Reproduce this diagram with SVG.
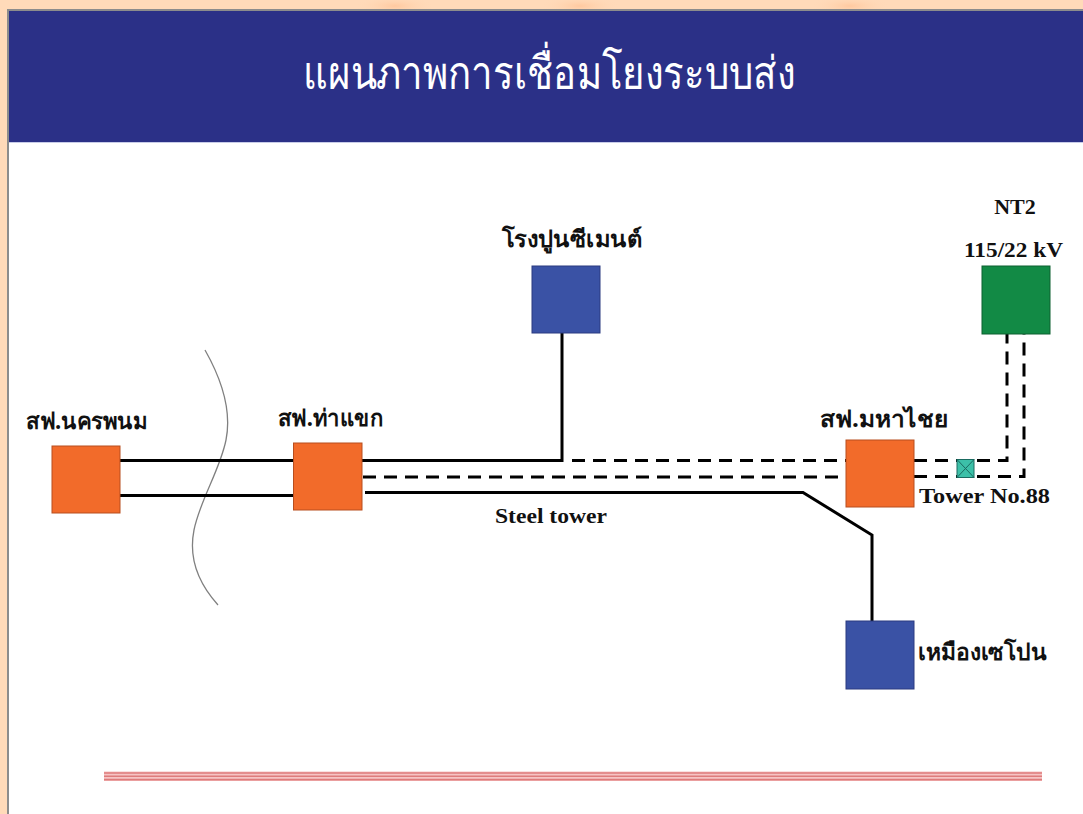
<svg xmlns="http://www.w3.org/2000/svg" width="1083" height="814" viewBox="0 0 1083 814">
  <defs>
    <radialGradient id="glow" cx="0.5" cy="0.5" r="0.5">
      <stop offset="0" stop-color="#FFC9A0"/>
      <stop offset="1" stop-color="#FFDAB9" stop-opacity="0"/>
    </radialGradient>
  </defs>
  <style>
    .sub { fill: #F26B2A; stroke: #B84E1E; stroke-width: 1; }
    .blue { fill: #3A52A5; stroke: #2A3A80; stroke-width: 1; }
    .green { fill: #128A45; stroke: #0C6030; stroke-width: 1; }
    .solid { fill: none; stroke: #000; stroke-width: 3; }
    .dash { fill: none; stroke: #000; stroke-width: 3; stroke-dasharray: 13 8; }
    .th { font-family: "Noto Sans", "DejaVu Sans", sans-serif; font-weight: bold; font-size: 23px; fill: #111; }
    .en { font-family: "Liberation Serif", serif; font-weight: bold; font-size: 22px; fill: #111; }
    .title { font-family: "Noto Sans", "DejaVu Sans", sans-serif; font-size: 46px; fill: #fff; }
  </style>

  <!-- background -->
  <rect x="0" y="0" width="1083" height="814" fill="#FFDAB9"/>
  <ellipse cx="395" cy="6" rx="40" ry="10" fill="url(#glow)"/>
  <ellipse cx="580" cy="6" rx="40" ry="10" fill="url(#glow)"/>
  <ellipse cx="850" cy="6" rx="40" ry="10" fill="url(#glow)"/>

  <!-- slide panel -->
  <rect x="8" y="10" width="1080" height="810" fill="#FFFFFF" stroke="#8C8C8C" stroke-width="2"/>
  <rect x="9" y="11" width="1074" height="131" fill="#2B3087"/>
  <line x1="9" y1="142.5" x2="1083" y2="142.5" stroke="#C8CCE8" stroke-width="1"/>
  <text class="title" x="303" y="89" textLength="492" lengthAdjust="spacingAndGlyphs">แผนภาพการเชื่อมโยงระบบส่ง</text>

  <!-- bottom rule -->
  <g id="bottom-rule">
    <rect x="104" y="771.5" width="938" height="9.5" fill="#F6C4C4"/>
    <line x1="104" y1="773" x2="1042" y2="773" stroke="#DE7B7B" stroke-width="1.6"/>
    <line x1="104" y1="776.3" x2="1042" y2="776.3" stroke="#DE7B7B" stroke-width="1.6"/>
    <line x1="104" y1="779.6" x2="1042" y2="779.6" stroke="#DE7B7B" stroke-width="1.6"/>
  </g>

  <!-- break line -->
  <path id="break-mark" d="M205,350 C222,380 232,410 226,440 C220,470 200,500 194,530 C188,560 200,585 218,605" fill="none" stroke="#808080" stroke-width="1.3"/>

  <!-- connectors -->
  <g id="connectors">
    <line class="solid" x1="120" y1="460.5" x2="293" y2="460.5"/>
    <line class="solid" x1="120" y1="495.5" x2="293" y2="495.5"/>
    <polyline class="solid" points="362,460.5 562,460.5 562,333"/>
    <line class="dash" x1="572" y1="460.5" x2="846" y2="460.5"/>
    <line class="dash" x1="363" y1="477" x2="846" y2="477"/>
    <polyline class="solid" points="365,492.5 803,492.5 872,535 872,621"/>
    <polyline class="dash" points="914,460.5 1007,460.5 1007,334"/>
    <polyline class="dash" points="914,476.5 1024,476.5 1024,334"/>
  </g>

  <!-- tower marker -->
  <g id="tower-88">
    <rect x="957" y="459.5" width="17" height="18" fill="#3CC0A8" stroke="#1A6A60" stroke-width="1"/>
    <path d="M957,459.5 L974,477.5 M974,459.5 L957,477.5" stroke="#1A6A60" stroke-width="1"/>
    <text class="en" x="919" y="503" textLength="131" lengthAdjust="spacingAndGlyphs">Tower No.88</text>
  </g>

  <text id="steel-tower-label" class="en" x="495" y="523" textLength="112" lengthAdjust="spacingAndGlyphs">Steel tower</text>

  <g id="nakhon-phanom">
    <rect class="sub" x="52" y="446" width="68" height="67"/>
    <text class="th" x="26" y="429" textLength="121" lengthAdjust="spacingAndGlyphs">สฟ.นครพนม</text>
  </g>

  <g id="thakhek">
    <rect class="sub" x="293.5" y="443" width="68.5" height="67"/>
    <text class="th" x="278" y="426" textLength="105" lengthAdjust="spacingAndGlyphs">สฟ.ท่าแขก</text>
  </g>

  <g id="cement">
    <rect class="blue" x="532" y="266" width="68" height="67"/>
    <text class="th" x="502" y="247" textLength="140" lengthAdjust="spacingAndGlyphs">โรงปูนซีเมนต์</text>
  </g>

  <g id="mahaxai">
    <rect class="sub" x="846" y="440" width="68" height="67"/>
    <text class="th" x="820" y="427" textLength="128" lengthAdjust="spacingAndGlyphs">สฟ.มหาไชย</text>
  </g>

  <g id="nt2">
    <rect class="green" x="982" y="266" width="68" height="68"/>
    <text class="en" x="1015" y="214" text-anchor="middle">NT2</text>
    <text class="en" x="964" y="257" textLength="99" lengthAdjust="spacingAndGlyphs">115/22 kV</text>
  </g>

  <g id="sepon">
    <rect class="blue" x="846" y="621" width="68" height="68"/>
    <text class="th" x="918" y="660" textLength="129" lengthAdjust="spacingAndGlyphs">เหมืองเซโปน</text>
  </g>
</svg>
